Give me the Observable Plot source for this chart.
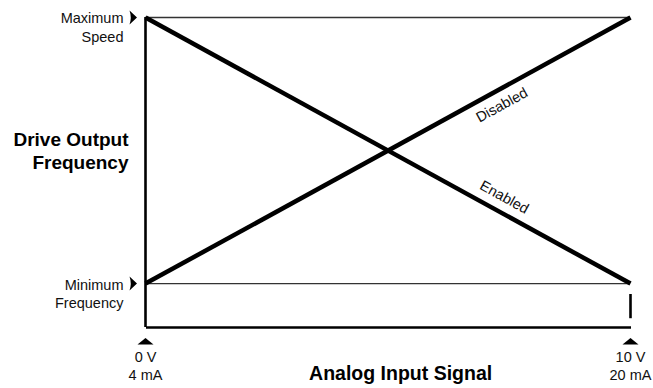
<!DOCTYPE html>
<html>
<head>
<meta charset="utf-8">
<script src="https://cdn.jsdelivr.net/npm/d3@7"></script>
<script src="https://cdn.jsdelivr.net/npm/@observablehq/plot@0.6"></script>
<style>
  html, body { margin: 0; padding: 0; background: #fff; }
  #chart { width: 653px; height: 388px; }
</style>
</head>
<body>
<div id="chart"></div>
<script>
// ---- data ----
const signalV = [0, 10];                       // analog input, volts
const voltLabels = ["0 V", "10 V"];
const currentLabels = ["4 mA", "20 mA"];
const levels = [0, 1];                          // 0 = minimum frequency, 1 = maximum speed
const levelLabels = ["Minimum\nFrequency", "Maximum\nSpeed"];
const enabledFreq = [1, 0];                     // inverted response
const disabledFreq = [0, 1];                    // normal response
const seriesNames = ["Disabled", "Enabled"];
const seriesLabelAt = [7.2, 7.25];              // volts where the series name sits
const floorLevel = -0.165;                      // bottom of drawing area
const endTick = [-0.041, -0.132];               // short mark at 10 V
const yTitle = "Drive Output\nFrequency";
const xTitle = "Analog Input Signal";

// ---- layout ----
const W = 653, H = 388, mL = 145, mR = 23, mT = 17, mB = 61;
const pxX = (W - mL - mR) / (signalV[1] - signalV[0]);
const pxY = (H - mT - mB) / (1 - floorLevel);
const angle = Math.atan2(pxY * 1, pxX * 10) * 180 / Math.PI;

const rows = [];
signalV.forEach((v, i) => {
  rows.push({series: "Disabled", v, f: disabledFreq[i]});
  rows.push({series: "Enabled", v, f: enabledFreq[i]});
});
const labelRows = seriesNames.map((s, i) => {
  const f = s === "Disabled" ? disabledFreq : enabledFreq;
  const t = (seriesLabelAt[i] - signalV[0]) / (signalV[1] - signalV[0]);
  return {series: s, v: seriesLabelAt[i], f: f[0] + (f[1] - f[0]) * t};
});

const rightArrow = {draw(ctx) {
  ctx.moveTo(-4, -7); ctx.lineTo(3.5, 0); ctx.lineTo(-4, 7);
  ctx.quadraticCurveTo(-1.5, 0, -4, -7); ctx.closePath();
}};
const upArrow = {draw(ctx) {
  ctx.moveTo(-8, 3); ctx.lineTo(0, -3.5); ctx.lineTo(8, 3); ctx.closePath();
}};

const font = "'Liberation Sans', Arial, Helvetica, sans-serif";
const rad = angle * Math.PI / 180;
const off = 15;

const chart = Plot.plot({
  width: W, height: H,
  marginLeft: mL, marginRight: mR, marginTop: mT, marginBottom: mB,
  style: {fontFamily: font, fontSize: "14.5px", color: "#111", background: "#fff"},
  x: {domain: signalV, axis: null},
  y: {domain: [floorLevel, 1], axis: null},
  marks: [
    // thin reference levels
    Plot.ruleY(levels, {x1: signalV[0], x2: signalV[1], stroke: "#333", strokeWidth: 1.4}),
    // frame: left and bottom
    Plot.ruleX([signalV[0]], {y1: floorLevel, y2: 1, stroke: "#000", strokeWidth: 2.6}),
    Plot.ruleY([floorLevel], {x1: signalV[0], x2: signalV[1], stroke: "#000", strokeWidth: 2.6, dx: 1}),
    Plot.ruleX([signalV[1]], {y1: endTick[0], y2: endTick[1], stroke: "#000", strokeWidth: 2.6}),
    // response lines
    Plot.line(rows, {x: "v", y: "f", z: "series", stroke: "#000", strokeWidth: 4.5, strokeLinecap: "butt"}),
    // series names along the lines
    Plot.text(labelRows.filter(d => d.series === "Disabled"), {
      x: "v", y: "f", text: "series", rotate: -angle,
      dx: Math.sin(rad) * off, dy: Math.cos(rad) * off, fontSize: 14.5, fill: "#111"
    }),
    Plot.text(labelRows.filter(d => d.series === "Enabled"), {
      x: "v", y: "f", text: "series", rotate: angle,
      dx: Math.sin(rad) * off, dy: -Math.cos(rad) * off, fontSize: 14.5, fill: "#111"
    }),
    // axes
    Plot.axisY({
      ticks: levels, tickFormat: d => levelLabels[levels.indexOf(d)],
      tickSize: 0, tickPadding: 22, lineHeight: 1.28, dy: 9.3,
      fontSize: 14.5, label: null, fill: "#111"
    }),
    Plot.axisX({
      ticks: signalV, tickFormat: d => voltLabels[signalV.indexOf(d)] + "\n" + currentLabels[signalV.indexOf(d)],
      tickSize: 0, tickPadding: 22, lineHeight: 1.25,
      fontSize: 14.5, label: null, fill: "#111"
    }),
    // arrow markers
    Plot.dot(levels, {x: () => signalV[0], y: d => d, symbol: rightArrow, r: 5, fill: "#000", stroke: null, dx: -12}),
    Plot.dot(signalV, {x: d => d, y: () => floorLevel, symbol: upArrow, r: 5, fill: "#000", stroke: null, dy: 14}),
    // titles
    Plot.text([yTitle], {x: signalV[0], y: 0.5, text: d => d, textAnchor: "end", dx: -17, dy: 0,
      fontSize: 19, fontWeight: "bold", lineHeight: 1.2, fill: "#000"}),
    Plot.text([xTitle], {x: 5.26, y: floorLevel, text: d => d, dy: 46,
      fontSize: 19.5, fontWeight: "bold", fill: "#000"})
  ]
});
document.getElementById("chart").appendChild(chart);
</script>
</body>
</html>
